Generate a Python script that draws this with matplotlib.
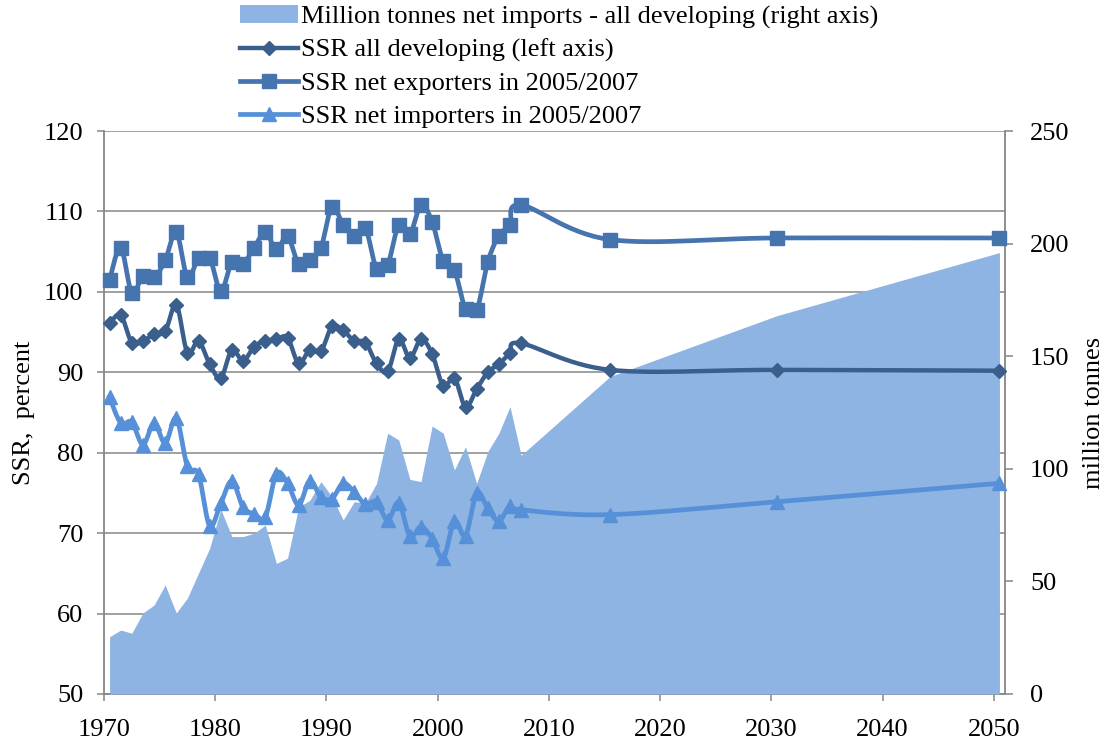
import numpy as np
import matplotlib
matplotlib.use("Agg")
import matplotlib.pyplot as plt
from matplotlib.lines import Line2D
from matplotlib.patches import Patch

plt.rcParams['font.family'] = ['Liberation Serif', 'DejaVu Serif']

# ---------------- data ----------------
years_hist = list(range(1970, 2008))
years_proj = [2015, 2030, 2050]
years = years_hist + years_proj

net_imports_mt = [25.4, 28.4, 27.0, 36.0, 39.5, 48.4, 36.0, 42.6, 53.7, 64.7,
                  82.0, 69.9, 69.9, 71.4, 75.0, 58.0, 60.3, 83.0, 86.0, 94.3,
                  87.6, 77.3, 85.4, 84.7, 93.5, 115.8, 112.8, 95.3, 94.3, 119.0,
                  115.8, 99.5, 109.8, 93.5, 107.6, 115.8, 127.6, 106.0,
                  141.0, 168.0, 196.0]

ssr_all = [96.1, 97.1, 93.7, 93.9, 94.7, 95.1, 98.4, 92.4, 93.9, 91.0,
           89.3, 92.8, 91.4, 93.2, 93.9, 94.1, 94.3, 91.1, 92.8, 92.6,
           95.7, 95.2, 93.9, 93.7, 91.1, 90.1, 94.1, 91.8, 94.1, 92.3,
           88.3, 89.3, 85.7, 87.9, 90.0, 91.0, 92.4, 93.6,
           90.3, 90.3, 90.2]

ssr_exporters = [101.5, 105.5, 99.9, 102.0, 101.8, 103.9, 107.4, 101.8, 104.2, 104.2,
                 100.1, 103.7, 103.5, 105.5, 107.4, 105.3, 106.9, 103.5, 104.0, 105.5,
                 110.6, 108.3, 107.0, 107.9, 102.9, 103.4, 108.3, 107.2, 110.8, 108.7,
                 103.8, 102.7, 97.9, 97.7, 103.7, 107.0, 108.3, 110.8,
                 106.5, 106.7, 106.7]

ssr_importers = [86.9, 83.7, 83.8, 81.0, 83.7, 81.2, 84.3, 78.3, 77.3, 70.9,
                 73.7, 76.5, 73.2, 72.4, 72.0, 77.4, 76.2, 73.5, 76.5, 74.5,
                 74.3, 76.2, 75.1, 73.6, 73.9, 71.6, 73.8, 69.6, 70.8, 69.3,
                 66.9, 71.5, 69.7, 75.0, 73.1, 71.5, 73.4, 72.9,
                 72.3, 73.9, 76.2]

x_ticks = list(range(1970, 2051, 10))
left_ticks = list(range(50, 121, 10))
right_ticks = list(range(0, 251, 50))

labels = ["Million tonnes net imports - all developing (right axis)",
          "SSR all developing (left axis)",
          "SSR net exporters in 2005/2007",
          "SSR net importers in 2005/2007"]

# ---------------- style ----------------
c_fill = '#8DB4E2'
c_all = '#3A5F8D'
c_exp = '#4674AE'
c_imp = '#5690D8'
c_axis = '#868686'
FS = 19

# points plotted at mid-year
xpos = np.array(years, dtype=float) + 0.5


def smooth(x, y, n=16):
    """Bezier smoothing through the points (Excel-like smoothed line)."""
    P = np.column_stack([x, y]).astype(float)
    out = [P[0]]
    t = np.linspace(0, 1, n)[1:, None]
    for i in range(len(P) - 1):
        p0 = P[i - 1] if i > 0 else P[i]
        p1, p2 = P[i], P[i + 1]
        p3 = P[i + 2] if i + 2 < len(P) else P[i + 1]
        c1 = p1 + (p2 - p0) / 6.0
        c2 = p2 - (p3 - p1) / 6.0
        seg = (1 - t) ** 3 * p1 + 3 * (1 - t) ** 2 * t * c1 + 3 * (1 - t) * t ** 2 * c2 + t ** 3 * p2
        out.extend(seg)
    out = np.array(out)
    return out[:, 0], out[:, 1]


fig = plt.figure(figsize=(11.05, 7.43), dpi=100)
L, B, W, H = 104 / 1105, 49 / 743, 901 / 1105, 563 / 743
ax = fig.add_axes([L, B, W, H])
ax2 = ax.twinx()   # fill, right axis
ax3 = ax.twinx()   # lines, same scale as left

# base axis: grid + left ticks
ax.set_xlim(1970, 2051)
ax.set_ylim(50, 120)
ax.set_yticks(left_ticks)
ax.set_xticks(x_ticks)
ax.grid(axis='y', color=c_axis, lw=1.1)
ax.grid(axis='x', visible=False)
ax.set_axisbelow(True)
for s in ['top', 'right']:
    ax.spines[s].set_visible(False)
for s in ['left', 'bottom']:
    ax.spines[s].set_color(c_axis)
    ax.spines[s].set_linewidth(1.3)
ax.tick_params(axis='y', direction='out', length=5, width=1.1, color=c_axis,
               pad=10, labelsize=FS)
ax.tick_params(axis='x', direction='out', length=5, width=1.1, color=c_axis,
               pad=13, labelsize=FS)
ax.set_ylabel('SSR,  percent', fontsize=FS)
ax.yaxis.set_label_coords(-0.077, 0.5)

# fill on right axis
ax2.fill_between(xpos, 0, net_imports_mt, color=c_fill, lw=0)
ax2.set_ylim(0, 250)
ax2.set_yticks(right_ticks)
for s in ['top', 'left', 'bottom']:
    ax2.spines[s].set_visible(False)
ax2.spines['right'].set_color(c_axis)
ax2.spines['right'].set_linewidth(1.3)
ax2.tick_params(axis='y', direction='out', length=6, width=1.1, color=c_axis,
                pad=12, labelsize=FS)
ax2.set_ylabel('million tonnes', fontsize=FS)
ax2.yaxis.set_label_coords(1.087, 0.5)

# lines on top
ax3.set_ylim(50, 120)
ax3.yaxis.set_visible(False)
for s in ax3.spines.values():
    s.set_visible(False)

series = [
    (ssr_all, c_all, 'D', 7.0, 3.2),
    (ssr_exporters, c_exp, 's', 9.5, 3.4),
    (ssr_importers, c_imp, '^', 9.8, 3.4),
]
handles = [Patch(facecolor=c_fill, edgecolor='none')]
for vals, col, mk, ms, lw in series:
    sx, sy = smooth(xpos, vals)
    ax3.plot(sx, sy, color=col, lw=lw, solid_joinstyle='round', zorder=3, clip_on=False)
    ax3.plot(xpos, vals, ls='none', marker=mk, ms=ms, color=col, mec=col, zorder=4, clip_on=False)
    handles.append(Line2D([0], [0], color=col, lw=lw, marker=mk, ms=ms, mec=col))

fig.legend(handles, labels, loc='upper left', bbox_to_anchor=(240 / 1105, 1 - 5 / 743),
           frameon=False, fontsize=FS, handlelength=2.2, handletextpad=0.1,
           labelspacing=0.36, borderpad=0, borderaxespad=0)

fig.savefig('out.png', dpi=100)
